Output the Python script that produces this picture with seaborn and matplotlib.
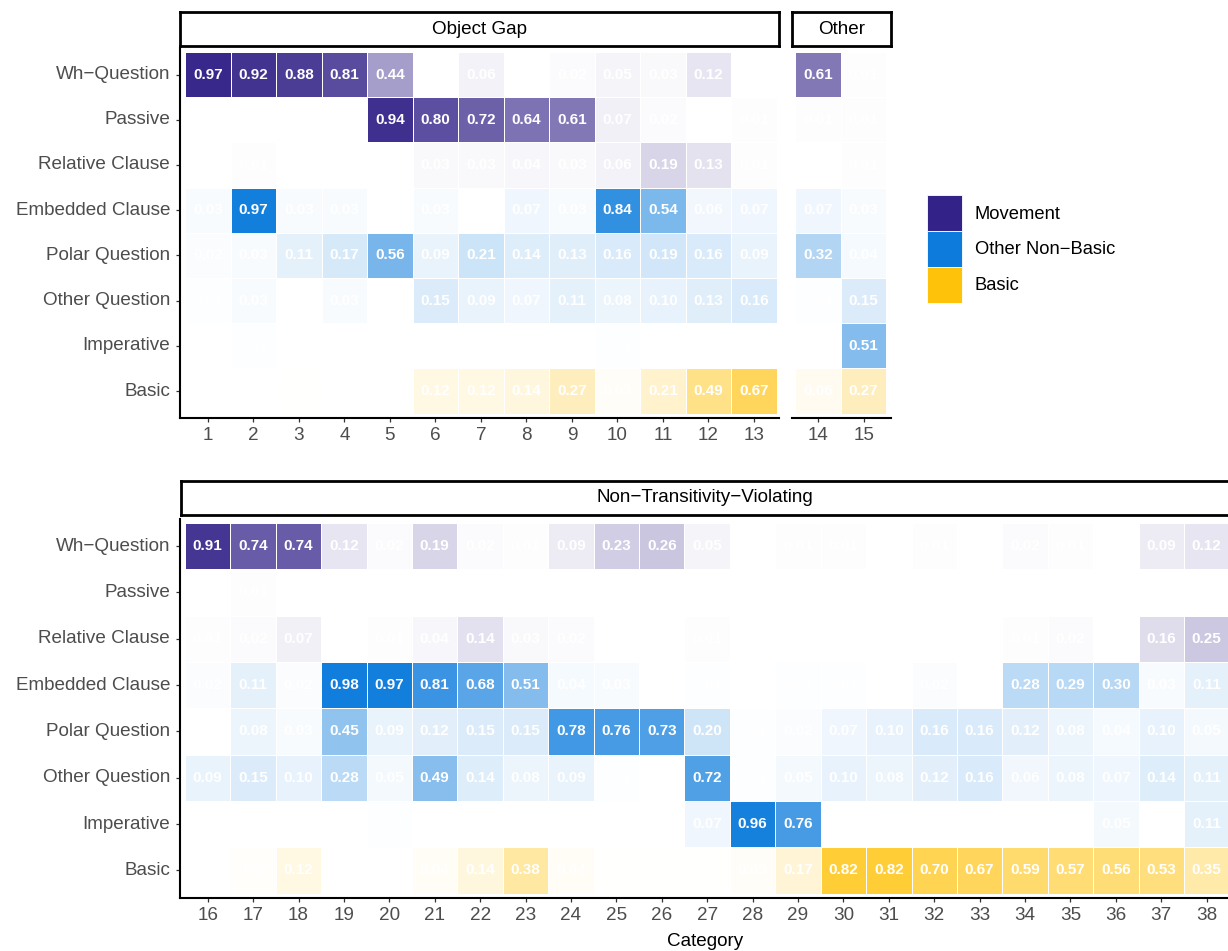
import numpy as np
import pandas as pd
import matplotlib
matplotlib.use("Agg")
import matplotlib.pyplot as plt
from matplotlib.colors import LinearSegmentedColormap
from matplotlib.patches import Patch
import seaborn as sns

# ---------------------------------------------------------------- data
categories = list(range(1, 39))
row_labels = ["Wh\u2212Question", "Passive", "Relative Clause", "Embedded Clause",
              "Polar Question", "Other Question", "Imperative", "Basic"]

#                 1    2    3    4    5    6    7    8    9   10   11   12   13   14   15
wh_question = [.97, .92, .88, .81, .44, 0, .06, 0, .02, .05, .03, .12, 0, .61, .01,
               # 16  17   18   19   20   21   22   23   24   25   26   27  28   29   30  31   32  33   34   35  36   37   38
               .91, .74, .74, .12, .02, .19, .02, .01, .09, .23, .26, .05, 0, .01, .01, 0, .01, 0, .02, .01, 0, .09, .12]
passive = [0, 0, 0, 0, .94, .80, .72, .64, .61, .07, .02, 0, .01, .01, .01,
           0, .01, 0, 0, 0, 0, 0, 0, 0, 0, 0, 0, 0, 0, 0, 0, 0, 0, 0, 0, 0, 0, 0]
relative_clause = [0, .01, 0, 0, 0, .03, .03, .04, .03, .06, .19, .13, .01, 0, .01,
                   .01, .02, .07, 0, .01, .04, .14, .03, .02, 0, 0, .01, 0, 0, 0, 0, 0, 0, .01, .02, 0, .16, .25]
embedded_clause = [.03, .97, .03, .03, 0, .03, 0, .07, .03, .84, .54, .06, .07, .07, .03,
                   .02, .11, .02, .98, .97, .81, .68, .51, .04, .03, 0, .01, 0, .01, .01, 0, .02, 0, .28, .29, .30, .03, .11]
polar_question = [.02, .03, .11, .17, .56, .09, .21, .14, .13, .16, .19, .16, .09, .32, .04,
                  0, .08, .03, .45, .09, .12, .15, .15, .78, .76, .73, .20, .01, .02, .07, .10, .16, .16, .12, .08, .04, .10, .05]
other_question = [.01, .03, 0, .03, 0, .15, .09, .07, .11, .08, .10, .13, .16, .01, .15,
                  .09, .15, .10, .28, .05, .49, .14, .08, .09, .01, 0, .72, .01, .05, .10, .08, .12, .16, .06, .08, .07, .14, .11]
imperative = [0, .01, 0, 0, 0, 0, 0, 0, 0, .01, 0, 0, 0, 0, .51,
              0, 0, 0, 0, .01, 0, 0, 0, 0, 0, 0, .07, .96, .76, 0, 0, 0, 0, 0, 0, .05, 0, .11]
basic = [0, 0, .01, 0, 0, .12, .12, .14, .27, .03, .21, .49, .67, .06, .27,
         0, .02, .12, 0, 0, .04, .14, .38, .04, .01, .01, .01, .03, .17, .82, .82, .70, .67, .59, .57, .56, .53, .35]

object_gap = list(range(1, 14))
other = [14, 15]
non_transitivity_violating = list(range(16, 39))

groups = ["Movement", "Other Non\u2212Basic", "Basic"]
group_colors = ["#332288", "#0C7BDC", "#FFC20A"]
row_groups = ["Movement", "Movement", "Movement", "Other Non\u2212Basic",
              "Other Non\u2212Basic", "Other Non\u2212Basic", "Other Non\u2212Basic", "Basic"]

table = pd.DataFrame(
    [wh_question, passive, relative_clause, embedded_clause,
     polar_question, other_question, imperative, basic],
    index=row_labels, columns=categories)

# ---------------------------------------------------------------- style
sns.set_style("white")
plt.rcParams["font.family"] = ["Liberation Sans", "DejaVu Sans"]
plt.rcParams["text.color"] = "black"

W, H = 1228, 951
fig = plt.figure(figsize=(W / 100, H / 100), dpi=100)


def box(x0, y0, x1, y1):
    return [x0 / W, 1 - y1 / H, (x1 - x0) / W, (y1 - y0) / H]


TICK_GREY = "#4D4D4D"
FS = 13.6


def draw_panel(rect, cats, show_y, xlim, ylim):
    ax = fig.add_axes(rect)
    sub = table.loc[:, cats]
    for g, color in zip(groups, group_colors):
        in_group = np.array([rg == g for rg in row_groups])[:, None]
        mask = (~in_group) | (sub.values == 0)
        cmap = LinearSegmentedColormap.from_list(g, ["#FFFFFF", color])
        sns.heatmap(sub, mask=mask, cmap=cmap, vmin=0, vmax=1, cbar=False,
                    annot=True, fmt=".2f",
                    annot_kws=dict(color="white", fontsize=11, fontweight="bold"),
                    linewidths=0.45, linecolor="white", ax=ax,
                    xticklabels=[str(c) for c in cats],
                    yticklabels=row_labels if show_y else False)
    ax.set_xlim(*xlim)
    ax.set_ylim(*ylim)
    ax.set_xlabel("")
    ax.set_ylabel("")
    for side in ["top", "right"]:
        ax.spines[side].set_visible(False)
    ax.spines["bottom"].set_visible(True)
    ax.spines["left"].set_visible(show_y)
    for side in ["bottom", "left"]:
        ax.spines[side].set_color("black")
        ax.spines[side].set_linewidth(1.5)
    ax.tick_params(axis="x", bottom=True, length=3.2, width=0.9, color="#333333",
                   labelsize=FS, labelcolor=TICK_GREY, pad=3, rotation=0)
    ax.tick_params(axis="y", left=show_y, length=3.2, width=0.9, color="#333333",
                   labelsize=FS, labelcolor=TICK_GREY, pad=4, rotation=0)
    return ax


def strip(x0, y0, x1, y1, label):
    sax = fig.add_axes(box(x0, y0, x1, y1))
    sax.set_xticks([])
    sax.set_yticks([])
    sax.set_facecolor("white")
    for s in sax.spines.values():
        s.set_visible(True)
        s.set_linewidth(2.0)
        s.set_color("black")
    sax.text(0.5, 0.5, label, ha="center", va="center", fontsize=FS,
             color="black", transform=sax.transAxes)


# top row: object gap and other
draw_panel(box(180, 48, 779, 418), object_gap, True, (-0.11, 13.05), (8.097, -0.088))
draw_panel(box(792, 48, 891, 418), other, False, (-0.07, 2.1), (8.097, -0.088))
strip(180, 12, 779, 46, "Object Gap")
strip(792, 12, 891, 46, "Other")

# bottom row: non-transitivity-violating
draw_panel(box(180, 519, 1228, 898), non_transitivity_violating, True,
           (-0.11, 22.97), (8.095, -0.086))
strip(181, 481, 1229, 515, "Non\u2212Transitivity\u2212Violating")

fig.text(705 / W, 1 - 941 / H, "Category", ha="center", va="center",
         fontsize=FS, color="black")

handles = [Patch(facecolor=c, edgecolor="white", linewidth=0.6) for c in group_colors]
fig.legend(handles, groups, loc="upper left", bbox_to_anchor=(927 / W, 1 - 195 / H),
           frameon=False, fontsize=13.2, labelcolor="black", borderpad=0,
           borderaxespad=0, labelspacing=0, handlelength=1.91, handleheight=2.64,
           handletextpad=0.7)

fig.savefig("out.png", dpi=100)
